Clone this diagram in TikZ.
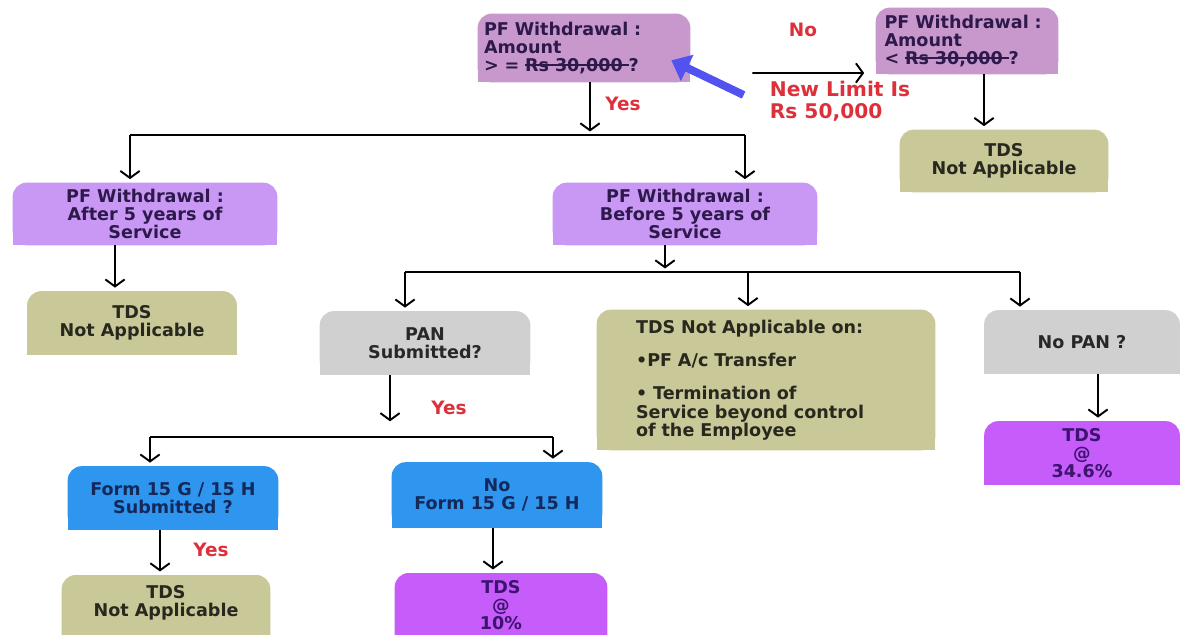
\documentclass[tikz,border=0pt]{standalone}
\usepackage{fontspec}
\setmainfont{DejaVu Sans}
\usetikzlibrary{positioning, arrows.meta, backgrounds}

\newsavebox\struckbox
\newcommand\struck[1]{\sbox\struckbox{#1}%
  \rlap{\rule[0.33em]{\wd\struckbox}{0.9pt}}\usebox\struckbox}

\definecolor{mauve}{RGB}{200,152,204}
\definecolor{lavender}{RGB}{201,152,245}
\definecolor{olive}{RGB}{200,200,152}
\definecolor{pangray}{RGB}{208,208,208}
\definecolor{tdsviolet}{RGB}{198,92,250}
\definecolor{formblue}{RGB}{47,150,240}
\definecolor{yesred}{RGB}{222,48,58}
\definecolor{limitblue}{RGB}{82,82,240}
\definecolor{inkpurple}{RGB}{45,25,75}
\definecolor{inkolive}{RGB}{40,40,30}
\definecolor{inkgray}{RGB}{40,40,40}
\definecolor{inkblue}{RGB}{20,40,90}
\definecolor{inkviolet}{RGB}{60,20,110}

\tikzset{
  box/.style={rectangle, inner sep=0pt, align=center,
    font=\bfseries\fontsize{10}{10.4}\selectfont},
  arr/.style={line width=1.1pt, shorten >=2pt,
    -{Straight Barb[length=4pt,width=11pt]}},
  bar/.style={line width=1.1pt},
  lbl/.style={text=yesred, font=\bfseries\fontsize{10.5}{11}\selectfont}
}

\begin{document}
\begin{tikzpicture}[x=0.02cm, y=-0.02cm]
    \useasboundingbox (0,0) rectangle (1186,635);

    % amount question
    \node(q30k)[box, text=inkpurple, align=left, text width=4cm,
      minimum width=4.24cm, minimum height=1.36cm] at (584,48)
      {PF Withdrawal :\\Amount\\> = \struck{Rs 30,000 }?};
    \node(topr)[box, text=inkpurple, align=left, text width=3.3cm,
      minimum width=3.64cm, minimum height=1.32cm] at (967,41)
      {PF Withdrawal :\\Amount\\< \struck{Rs 30,000 }?};
    \node(tdsna1)[box, text=inkolive, minimum width=4.16cm,
      minimum height=1.24cm] at (1004,161) {TDS\\Not Applicable};
    \node(newlimit)[align=left, text=yesred,
      font=\bfseries\fontsize{11.5}{12.5}\selectfont] at (840,101)
      {New Limit Is\\Rs 50,000};

    % years of service
    \node(after5)[box, text=inkpurple, minimum width=5.28cm,
      minimum height=1.24cm] at (145,214)
      {PF Withdrawal :\\After 5 years of\\Service};
    \node(tdsna2)[box, text=inkolive, minimum width=4.18cm,
      minimum height=1.26cm] at (132,323) {TDS\\Not Applicable};
    \node(before5)[box, text=inkpurple, minimum width=5.28cm,
      minimum height=1.24cm] at (685,214)
      {PF Withdrawal :\\Before 5 years of\\Service};

    % second level
    \node(pan)[box, text=inkgray, minimum width=4.2cm,
      minimum height=1.26cm] at (425,343) {PAN\\Submitted?};
    \node(tdson)[box, text=inkolive, align=left, text width=5.2cm,
      minimum width=6.76cm, minimum height=2.8cm] at (766,380)
      {TDS Not Applicable on:\\[0.3cm]
       \textbullet PF A/c Transfer\\[0.3cm]
       \textbullet{} Termination of\\Service beyond control\\of the Employee};
    \node(nopan)[box, text=inkgray, minimum width=3.9cm,
      minimum height=1.26cm] at (1082,342) {No PAN ?};
    \node(tds346)[box, text=inkviolet, minimum width=3.9cm,
      minimum height=1.26cm] at (1082,453) {TDS\\@\\34.6\%};

    % forms
    \node(form15)[box, text=inkblue, minimum width=4.2cm,
      minimum height=1.26cm] at (173,498) {Form 15 G / 15 H\\Submitted ?};
    \node(noform)[box, text=inkblue, minimum width=4.2cm,
      minimum height=1.3cm] at (497,495) {No\\Form 15 G / 15 H};
    \node(tdsna3)[box, text=inkolive, anchor=north, minimum width=4.16cm,
      inner ysep=0.2cm, text depth=1cm] at (166,575) {TDS\\Not Applicable};
    \node(tds10)[box, text=inkviolet, anchor=north, minimum width=4.24cm,
      inner ysep=0.14cm, text depth=0.8cm] at (501,573) {TDS\\@\\10\%};

    % labels
    \node(lno)[lbl] at (803,30) {No};
    \node(lyes1)[lbl] at (623,104) {Yes};
    \node(lyes2)[lbl] at (449,408) {Yes};
    \node(lyes3)[lbl] at (211,550) {Yes};

    \coordinate (bar1l) at (130,135);
    \coordinate (bar1r) at (745,135);
    \coordinate (bar2l) at (405,272);
    \coordinate (bar2m) at (748,272);
    \coordinate (bar2r) at (1020,272);
    \coordinate (bar3l) at (150,437);
    \coordinate (bar3r) at (553,437);

    \draw[arr] ([shift={(1.24cm,-0.5cm)}]q30k.east)
      -- ([shift={(-0.16cm,-0.64cm)}]topr.west);
    \draw[limitblue, line width=4.5pt, -{Triangle[length=10pt,width=16pt]}]
      ([shift={(-0.4cm,0.12cm)}]newlimit.west)
      -- ([shift={(-0.38cm,0.44cm)}]q30k.south east);
    \draw[arr] ([xshift=-0.4cm]tdsna1.north |- topr.south)
      -- ([xshift=-0.4cm]tdsna1.north);

    \draw[arr] ([xshift=0.12cm]q30k.south)
      -- ([xshift=0.12cm]q30k.south |- bar1l);
    \draw[bar] (bar1l) -- (bar1r);
    \draw[arr] (bar1l) -- (bar1l |- after5.north);
    \draw[arr] (bar1r) -- (bar1r |- before5.north);
    \draw[arr] ([xshift=-0.34cm]tdsna2.north |- after5.south)
      -- ([xshift=-0.34cm]tdsna2.north);

    \draw[arr] ([xshift=-0.4cm]before5.south)
      -- ([xshift=-0.4cm]before5.south |- bar2l);
    \draw[bar] (bar2l) -- (bar2r);
    \draw[arr] (bar2l) -- (bar2l |- pan.north);
    \draw[arr] (bar2m) -- (bar2m |- tdson.north);
    \draw[arr] (bar2r) -- (bar2r |- nopan.north);
    \draw[arr] ([xshift=0.32cm]nopan.south) -- ([xshift=0.32cm]tds346.north);

    \draw[arr] ([xshift=-0.7cm]pan.south) -- ++(0,-1cm);
    \draw[bar] (bar3l) -- (bar3r);
    \draw[arr] (bar3l) -- (bar3l |- form15.north);
    \draw[arr] (bar3r) -- (bar3r |- noform.north);
    \draw[arr] ([xshift=-0.26cm]form15.south) -- ([xshift=-0.26cm]form15.south |- tdsna3.north);
    \draw[arr] ([xshift=-0.08cm]noform.south) -- ([xshift=-0.08cm]noform.south |- tds10.north);

    \begin{scope}[on background layer]
      \fill[white] (0,0) rectangle (1186,635);
      \foreach \n/\c in {q30k/mauve, topr/mauve, tdsna1/olive,
          after5/lavender, tdsna2/olive, before5/lavender, pan/pangray,
          tdson/olive, nopan/pangray, tds346/tdsviolet, form15/formblue,
          noform/formblue, tdsna3/olive, tds10/tdsviolet}{
        \fill[\c, rounded corners=8pt] (\n.south west) rectangle (\n.north east);
        \fill[\c] (\n.south west) rectangle (\n.east);
      }
    \end{scope}
\end{tikzpicture}
\end{document}
